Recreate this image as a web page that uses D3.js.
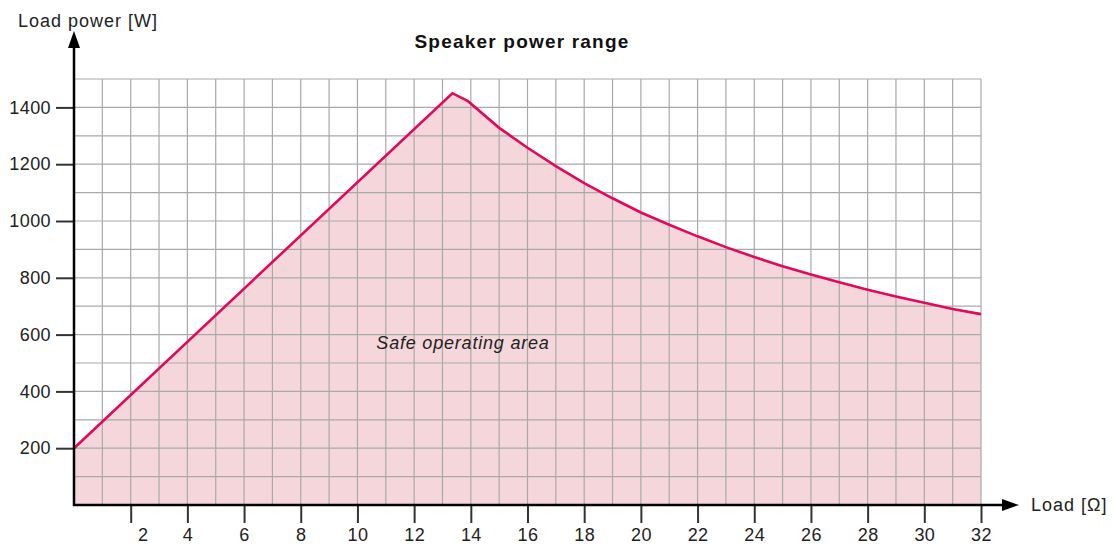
<!DOCTYPE html>
<html>

<head>
    <title>Speaker power range</title>
    <script src="https://d3js.org/d3.v7.min.js"></script>
    <style>
        body {
            margin: 0;
            font-family: "Liberation Sans", Arial, sans-serif;
            background: #fff;
        }

        .tick-label {
            font-size: 18px;
            fill: #222;
            letter-spacing: 0.4px;
        }
    </style>
</head>

<body>
    <div id="chart"></div>

    <script>
        // load in ohms and the max power
        const loadOhms = [0, 13.35, 13.9, 15, 16, 17, 18, 19, 20, 21, 22, 23, 24, 25, 26, 27, 28, 29, 30, 31, 32];
        const powerW = [200, 1450, 1422, 1328, 1258, 1193, 1133, 1080, 1030, 987, 946, 908, 873, 841, 812, 784, 758, 734, 712, 690, 672];
        const xTicks = [2, 4, 6, 8, 10, 12, 14, 16, 18, 20, 22, 24, 26, 28, 30, 32];
        const yTicks = [200, 400, 600, 800, 1000, 1200, 1400];

        const data = loadOhms.map((d, i) => ({ load: d, power: powerW[i] }));

        const W = 1113, H = 545;
        const margin = { top: 79, right: 132, bottom: 40, left: 74 };

        const svg = d3.select("#chart")
            .append("svg")
            .attr("width", W)
            .attr("height", H);

        const x = d3.scaleLinear().domain([0, 32]).range([margin.left, W - margin.right]);
        const y = d3.scaleLinear().domain([0, 1500]).range([H - margin.bottom, margin.top]);

        // safe area fill
        const area = d3.area()
            .x(d => x(d.load))
            .y0(y(0))
            .y1(d => y(d.power));
        svg.append("path")
            .datum(data)
            .attr("d", area)
            .attr("fill", "#f5d7db");

        // grid
        const grid = svg.append("g").attr("stroke", "#a9a9a9").attr("stroke-width", 1.2);
        grid.selectAll("line.v")
            .data(d3.range(1, 33))
            .join("line")
            .attr("x1", d => x(d)).attr("x2", d => x(d))
            .attr("y1", y(0)).attr("y2", y(1500));
        grid.selectAll("line.h")
            .data(d3.range(100, 1501, 100))
            .join("line")
            .attr("x1", x(0)).attr("x2", x(32))
            .attr("y1", d => y(d)).attr("y2", d => y(d));

        // curve
        svg.append("path")
            .datum(data)
            .attr("fill", "none")
            .attr("stroke", "#e2085c")
            .attr("stroke-width", 2.6)
            .attr("stroke-linejoin", "miter")
            .attr("d", d3.line().x(d => x(d.load)).y(d => y(d.power)));

        // x axis
        const xAxis = svg.append("g")
            .attr("transform", `translate(0,${y(0)})`)
            .call(d3.axisBottom(x).tickValues(xTicks).tickSize(18).tickSizeOuter(0).tickPadding(5));
        xAxis.select(".domain").remove();
        xAxis.selectAll(".tick line").attr("stroke", "#333").attr("stroke-width", 2);
        xAxis.selectAll(".tick text")
            .attr("class", "tick-label")
            .attr("font-family", null)
            .attr("dx", (d, i) => i === 0 ? 12 : 0);

        // y axis
        const yAxis = svg.append("g")
            .attr("transform", `translate(${x(0)},0)`)
            .call(d3.axisLeft(y).tickValues(yTicks).tickFormat(d3.format("d")).tickSize(18).tickSizeOuter(0).tickPadding(5));
        yAxis.select(".domain").remove();
        yAxis.selectAll(".tick line").attr("stroke", "#333").attr("stroke-width", 2);
        yAxis.selectAll(".tick text")
            .attr("class", "tick-label")
            .attr("font-family", null);

        // axis lines with arrows
        svg.append("line")
            .attr("x1", x(0) - 1).attr("x2", 1004)
            .attr("y1", y(0)).attr("y2", y(0))
            .attr("stroke", "#000").attr("stroke-width", 2.5);
        svg.append("path")
            .attr("d", `M1002,${y(0) - 6}L1019,${y(0)}L1002,${y(0) + 6}Z`)
            .attr("fill", "#000");
        svg.append("line")
            .attr("x1", x(0)).attr("x2", x(0))
            .attr("y1", y(0) + 1).attr("y2", 46)
            .attr("stroke", "#000").attr("stroke-width", 2.5);
        svg.append("path")
            .attr("d", `M${x(0) - 6},48L${x(0)},31L${x(0) + 6},48Z`)
            .attr("fill", "#000");

        // labels
        svg.append("text")
            .attr("x", 18).attr("y", 27)
            .attr("font-size", 18).attr("fill", "#222")
            .attr("letter-spacing", 1)
            .text("Load power [W]");
        svg.append("text")
            .attr("x", 1031).attr("y", 511)
            .attr("font-size", 18).attr("fill", "#222")
            .attr("letter-spacing", 1)
            .text("Load [Ω]");
        svg.append("text")
            .attr("x", 522).attr("y", 48)
            .attr("text-anchor", "middle")
            .attr("font-size", 19).attr("font-weight", "bold").attr("fill", "#111")
            .attr("letter-spacing", 1.2)
            .text("Speaker power range");
        svg.append("text")
            .attr("x", 463).attr("y", 349)
            .attr("text-anchor", "middle")
            .attr("font-size", 18).attr("font-style", "italic").attr("fill", "#222")
            .attr("letter-spacing", 0.8)
            .text("Safe operating area");
    </script>
</body>

</html>
